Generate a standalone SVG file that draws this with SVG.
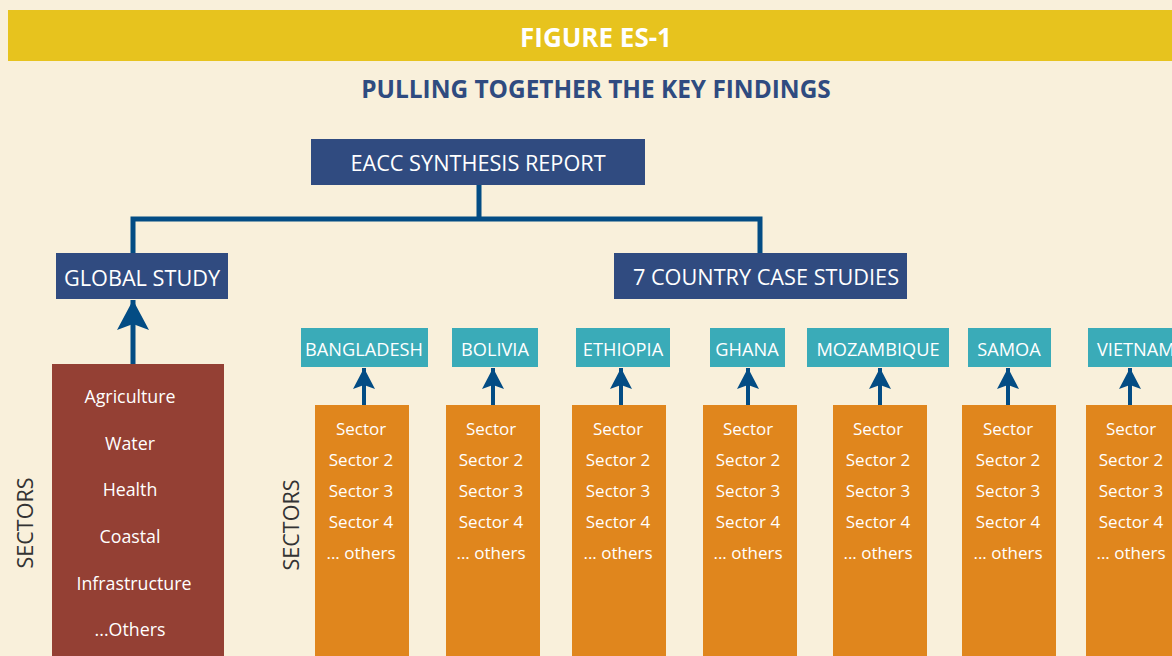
<svg xmlns="http://www.w3.org/2000/svg" width="1172" height="656" viewBox="0 0 1172 656">
<defs>
<style>
.t{font-family:"Open Sans","Noto Sans","Liberation Sans",sans-serif;fill:#fff;text-anchor:middle;dominant-baseline:central}
.hdr{font-size:21.7px}
.cty{font-size:18.2px}
.sec{font-size:17px}
.brk{font-size:17.8px}
.navy{fill:#304B80}
.teal{fill:#3AABB8}
.org{fill:#E0861D}
.conn{stroke:#034C84;fill:none}
.side{font-family:"Open Sans","Noto Sans","Liberation Sans",sans-serif;font-size:21.5px;fill:#333;text-anchor:middle;dominant-baseline:central}
</style>
<marker id="ah" viewBox="0 0 22 22" markerWidth="22" markerHeight="22" refX="21" refY="11" orient="auto" markerUnits="userSpaceOnUse">
<path d="M21 11 L0 0 L4 11 L0 22 Z" fill="#034C84"/>
</marker>
<marker id="ahb" viewBox="0 0 32 32" markerWidth="32" markerHeight="32" refX="30" refY="16" orient="auto" markerUnits="userSpaceOnUse">
<path d="M30 16 L0 0 L6 16 L0 32 Z" fill="#034C84"/>
</marker>
</defs>
<rect width="1172" height="656" fill="#F9F0DB"/>
<g id="banner">
<rect x="8" y="10" width="1164" height="51" fill="#E7C31E"/>
<text class="t" x="596" y="37" style="font-size:26px;font-weight:bold">FIGURE ES-1</text>
</g>
<text id="title" x="596" y="88" style="font-family:'Open Sans','Noto Sans',sans-serif;font-size:24.4px;font-weight:bold;fill:#2F4B80;text-anchor:middle;dominant-baseline:central">PULLING TOGETHER THE KEY FINDINGS</text>
<g id="connectors">
<path class="conn" stroke-width="5" d="M479 185 V219 M133 253 V219 H760 V253"/>
<path class="conn" stroke-width="5" d="M133 364 V300" marker-end="url(#ahb)"/>
<g stroke-width="4">
<path class="conn" d="M364 405 V368" marker-end="url(#ah)"/>
<path class="conn" d="M493 405 V368" marker-end="url(#ah)"/>
<path class="conn" d="M621 405 V368" marker-end="url(#ah)"/>
<path class="conn" d="M748 405 V368" marker-end="url(#ah)"/>
<path class="conn" d="M880 405 V368" marker-end="url(#ah)"/>
<path class="conn" d="M1008 405 V368" marker-end="url(#ah)"/>
<path class="conn" d="M1130 405 V368" marker-end="url(#ah)"/>
</g>
</g>
<g id="eacc"><rect class="navy" x="311" y="139" width="334" height="46"/><text class="t hdr" x="478" y="162">EACC SYNTHESIS REPORT</text></g>
<g id="global"><rect class="navy" x="56" y="253" width="172" height="46"/><text class="t hdr" x="142" y="277">GLOBAL STUDY</text></g>
<g id="country"><rect class="navy" x="614" y="253" width="293" height="46"/><text class="t hdr" x="766" y="276">7 COUNTRY CASE STUDIES</text></g>
<g id="global-sectors">
<rect x="52" y="364" width="172" height="292" fill="#944034"/>
<text class="t brk" x="130" y="396">Agriculture</text>
<text class="t brk" x="130" y="443">Water</text>
<text class="t brk" x="130" y="489">Health</text>
<text class="t brk" x="130" y="536">Coastal</text>
<text class="t brk" x="134" y="583">Infrastructure</text>
<text class="t brk" x="130" y="629">...Others</text>
</g>
<text class="side" transform="translate(24 523) rotate(-90)">SECTORS</text>
<text class="side" transform="translate(290 525) rotate(-90)">SECTORS</text>
<g id="bangladesh"><rect class="teal" x="301" y="328" width="127" height="39"/><text class="t cty" x="364" y="349">BANGLADESH</text></g>
<g id="bolivia"><rect class="teal" x="452" y="328" width="86" height="39"/><text class="t cty" x="495" y="349">BOLIVIA</text></g>
<g id="ethiopia"><rect class="teal" x="576" y="328" width="94" height="39"/><text class="t cty" x="623" y="349">ETHIOPIA</text></g>
<g id="ghana"><rect class="teal" x="710" y="328" width="75" height="39"/><text class="t cty" x="747" y="349">GHANA</text></g>
<g id="mozambique"><rect class="teal" x="807" y="328" width="142" height="39"/><text class="t cty" x="878" y="349">MOZAMBIQUE</text></g>
<g id="samoa"><rect class="teal" x="968" y="328" width="83" height="39"/><text class="t cty" x="1009" y="349">SAMOA</text></g>
<g id="vietnam"><rect class="teal" x="1088" y="328" width="100" height="39"/><text class="t cty" x="1097" y="349" style="text-anchor:start">VIETNAM</text></g>
<g id="col-bangladesh"><rect class="org" x="315" y="405" width="94" height="251"/>
<text class="t sec" x="361" y="428">Sector</text><text class="t sec" x="361" y="459">Sector 2</text><text class="t sec" x="361" y="490">Sector 3</text><text class="t sec" x="361" y="521">Sector 4</text><text class="t sec" x="361" y="552">... others</text></g>
<g id="col-bolivia"><rect class="org" x="446" y="405" width="94" height="251"/>
<text class="t sec" x="491" y="428">Sector</text><text class="t sec" x="491" y="459">Sector 2</text><text class="t sec" x="491" y="490">Sector 3</text><text class="t sec" x="491" y="521">Sector 4</text><text class="t sec" x="491" y="552">... others</text></g>
<g id="col-ethiopia"><rect class="org" x="572" y="405" width="94" height="251"/>
<text class="t sec" x="618" y="428">Sector</text><text class="t sec" x="618" y="459">Sector 2</text><text class="t sec" x="618" y="490">Sector 3</text><text class="t sec" x="618" y="521">Sector 4</text><text class="t sec" x="618" y="552">... others</text></g>
<g id="col-ghana"><rect class="org" x="703" y="405" width="94" height="251"/>
<text class="t sec" x="748" y="428">Sector</text><text class="t sec" x="748" y="459">Sector 2</text><text class="t sec" x="748" y="490">Sector 3</text><text class="t sec" x="748" y="521">Sector 4</text><text class="t sec" x="748" y="552">... others</text></g>
<g id="col-mozambique"><rect class="org" x="833" y="405" width="94" height="251"/>
<text class="t sec" x="878" y="428">Sector</text><text class="t sec" x="878" y="459">Sector 2</text><text class="t sec" x="878" y="490">Sector 3</text><text class="t sec" x="878" y="521">Sector 4</text><text class="t sec" x="878" y="552">... others</text></g>
<g id="col-samoa"><rect class="org" x="962" y="405" width="94" height="251"/>
<text class="t sec" x="1008" y="428">Sector</text><text class="t sec" x="1008" y="459">Sector 2</text><text class="t sec" x="1008" y="490">Sector 3</text><text class="t sec" x="1008" y="521">Sector 4</text><text class="t sec" x="1008" y="552">... others</text></g>
<g id="col-vietnam"><rect class="org" x="1086" y="405" width="100" height="251"/>
<text class="t sec" x="1131" y="428">Sector</text><text class="t sec" x="1131" y="459">Sector 2</text><text class="t sec" x="1131" y="490">Sector 3</text><text class="t sec" x="1131" y="521">Sector 4</text><text class="t sec" x="1131" y="552">... others</text></g>
</svg>
